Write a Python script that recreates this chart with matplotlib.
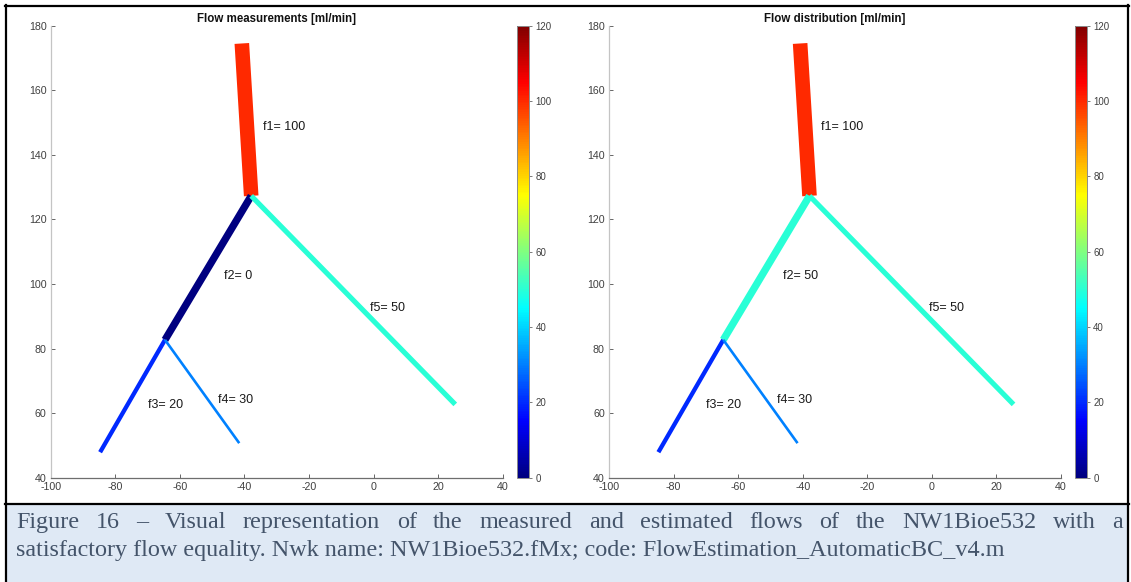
import matplotlib
matplotlib.use("Agg")
import matplotlib.pyplot as plt
from matplotlib.colors import LinearSegmentedColormap, Normalize
from matplotlib.cm import ScalarMappable
from matplotlib.lines import Line2D
from matplotlib.patches import Rectangle

# ---------------- data ----------------
segment_names = ["f1", "f2", "f3", "f4", "f5"]
seg_x0 = [-40.8, -37.9, -64.6, -64.6, -37.9]
seg_y0 = [174.5, 127.3, 82.7, 82.7, 127.3]
seg_x1 = [-37.9, -64.6, -84.7, -41.6, 25.3]
seg_y1 = [127.3, 82.7, 47.9, 50.7, 62.7]
flow_measured = [100, 0, 20, 30, 50]
flow_estimated = [100, 50, 20, 30, 50]
label_x = [-34.2, -46.2, -69.9, -48.1, -1.0]
label_y = [148.7, 102.6, 62.5, 64.0, 92.5]
titles = ["Flow measurements [ml/min]", "Flow distribution [ml/min]"]
x_ticks = [-100, -80, -60, -40, -20, 0, 20, 40]
y_ticks = [40, 60, 80, 100, 120, 140, 160, 180]
cbar_ticks = [0, 20, 40, 60, 80, 100, 120]
caption_line1 = ("Figure 16 \u2013 Visual representation of the measured and estimated "
                 "flows of the NW1Bioe532 with a")
caption_line2 = ("satisfactory flow equality. Nwk name: NW1Bioe532.fMx; code: "
                 "FlowEstimation_AutomaticBC_v4.m")

# ---------------- style ----------------
seg_widths = [10.5, 5.3, 3.1, 1.9, 3.7]
W, H = 1131, 582
plt.rcParams["axes.unicode_minus"] = False
plt.rcParams["font.family"] = ["Liberation Sans", "DejaVu Sans"]

# MATLAB jet colormap
jet = LinearSegmentedColormap("mjet", {
    "red":   [(0, 0, 0), (3/8, 0, 0), (5/8, 1, 1), (7/8, 1, 1), (1, 0.5, 0.5)],
    "green": [(0, 0, 0), (1/8, 0, 0), (3/8, 1, 1), (5/8, 1, 1), (7/8, 0, 0), (1, 0, 0)],
    "blue":  [(0, 0.5, 0.5), (1/8, 1, 1), (3/8, 1, 1), (5/8, 0, 0), (1, 0, 0)],
}, N=256)
norm = Normalize(0, 120)

fig = plt.figure(figsize=(W / 100, H / 100), dpi=100)


def fx(px):
    return px / W


def fy(py):
    return 1 - py / H


def rect(left, top, width, height):
    return [fx(left), fy(top + height), width / W, height / H]


ax_lefts = [50.7, 609.0]
cb_lefts = [517.3, 1075.0]
flows_sets = [flow_measured, flow_estimated]
for k in range(2):
    ax = fig.add_axes(rect(ax_lefts[k], 25.7, 452, 452))
    flows = flows_sets[k]
    for i in range(len(segment_names)):
        ax.plot([seg_x0[i], seg_x1[i]], [seg_y0[i], seg_y1[i]],
                color=jet(norm(flows[i])), lw=seg_widths[i],
                solid_capstyle="butt", zorder=3)
        ax.text(label_x[i], label_y[i], f"{segment_names[i]}= {flows[i]}",
                fontsize=9, ha="left", va="center", color="#1a1a1a", zorder=4)
    ax.set_xlim(-100, 40)
    ax.set_ylim(40, 180)
    ax.set_xticks(x_ticks)
    ax.set_yticks(y_ticks)
    ax.tick_params(direction="in", length=3, width=0.7, colors="#666666",
                   labelcolor="#404040", labelsize=7.7, pad=3)
    ax.spines["top"].set_visible(False)
    ax.spines["right"].set_visible(False)
    ax.spines["left"].set_color("#c4c4c4")
    ax.spines["bottom"].set_color("#6e6e6e")
    ax.spines["left"].set_linewidth(0.9)
    ax.spines["bottom"].set_linewidth(0.9)
    ax.set_title(titles[k], fontsize=8.3, fontweight="bold", pad=2.5, color="#111111")

    cax = fig.add_axes(rect(cb_lefts[k], 25.7, 12, 452))
    sm = ScalarMappable(norm=norm, cmap=jet)
    cb = fig.colorbar(sm, cax=cax, ticks=cbar_ticks)
    cb.outline.set_edgecolor("#8c8c8c")
    cb.outline.set_linewidth(0.7)
    cax.tick_params(direction="out", length=2.5, width=0.6, colors="#666666",
                    labelcolor="#404040", labelsize=7, pad=2)

# ---------------- frame and caption ----------------
fig.add_artist(Rectangle((fx(6), 0), fx(1128) - fx(6), fy(504), transform=fig.transFigure,
                         facecolor="#dfe9f5", edgecolor="none", zorder=0))
border_kw = dict(color="black", lw=1.6, transform=fig.transFigure, zorder=10)
fig.add_artist(Line2D([fx(5), fx(1129)], [fy(6), fy(6)], **border_kw))
fig.add_artist(Line2D([fx(5), fx(1129)], [fy(504), fy(504)], **border_kw))
fig.add_artist(Line2D([fx(6), fx(6)], [fy(5), 0], **border_kw))
fig.add_artist(Line2D([fx(1128), fx(1128)], [fy(5), 0], **border_kw))

cap_color = "#44546a"
cap_family = ["Liberation Serif", "DejaVu Serif"]
renderer = fig.canvas.get_renderer()

# size the caption font so the second (unjustified) line has its natural width
probe = fig.text(0, 0, caption_line2, fontsize=10, family=cap_family)
w10 = probe.get_window_extent(renderer).width
probe.remove()
left_x, right_x, line2_end = 16.0, 1123.0, 1006.0
cap_fs = 10 * (line2_end - left_x) / w10

fig.text(fx(left_x), fy(556), caption_line2, fontsize=cap_fs, family=cap_family,
         color=cap_color, ha="left", va="baseline")

# justified first line
words = caption_line1.split(" ")
word_artists = [fig.text(0, fy(528), w, fontsize=cap_fs, family=cap_family,
                         color=cap_color, ha="left", va="baseline") for w in words]
widths = [a.get_window_extent(renderer).width for a in word_artists]
gap = ((right_x - left_x) - sum(widths)) / (len(words) - 1)
xpos = left_x
for a, wd in zip(word_artists, widths):
    a.set_x(fx(xpos))
    xpos += wd + gap

fig.savefig("out.png", dpi=100)
